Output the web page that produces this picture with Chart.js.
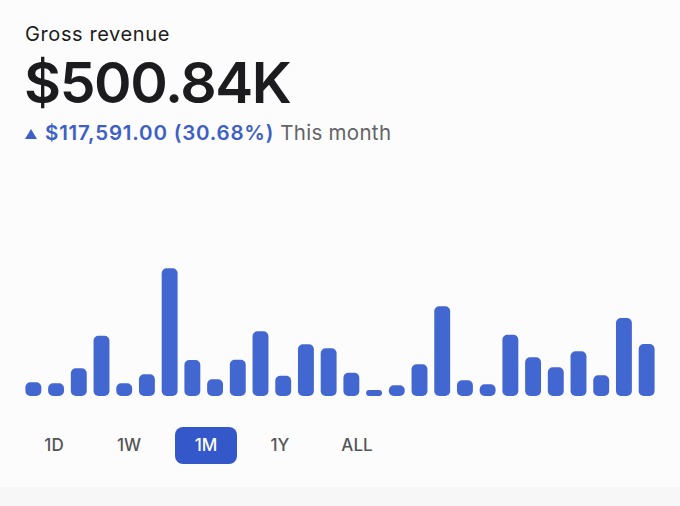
<!DOCTYPE html>
<html>
<head>
<meta charset="utf-8">
<script src="https://cdn.jsdelivr.net/npm/chart.js@4.4.1/dist/chart.umd.min.js"></script>
<style>
  html, body { margin: 0; padding: 0; }
  body {
    width: 680px; height: 506px; position: relative; overflow: hidden;
    background: #fcfcfd; font-family: Inter, "Noto Sans", sans-serif;
  }
  .title { position: absolute; left: 25px; top: 22px; font-size: 20px; color: #1c1c1e; font-weight: 400; letter-spacing: 0.6px; }
  .total { position: absolute; left: 24px; top: 48px; font-size: 57px; font-weight: 600; color: #1c1c1e; letter-spacing: -1.4px; line-height: 70px; }
  .change { position: absolute; left: 25px; top: 120px; font-size: 20.5px; line-height: 26px; white-space: nowrap; }
  .change .up { color: #3d60c6; font-weight: 600; letter-spacing: 0.8px; }
  .change .tri { display: inline-block; width: 0; height: 0; border-left: 6px solid transparent; border-right: 6px solid transparent; border-bottom: 10px solid #3d60c6; margin-right: 8px; vertical-align: 1px; }
  .change .period { color: #636366; margin-left: 6px; letter-spacing: 0.3px; }
  #wrap { position: absolute; left: 0; top: 170px; width: 680px; height: 226px; }
  .ranges { position: absolute; left: 0; top: 427px; height: 37px; width: 680px; }
  .ranges span {
    position: absolute; top: 0; height: 37px; line-height: 37px; width: 62px; margin-left: -31px;
    text-align: center; font-size: 17px; font-weight: 500; color: #555558; border-radius: 8px;
  }
  .ranges span.active { background: #3457c9; color: #fff; }
  .footer { position: absolute; left: 0; top: 487px; width: 680px; height: 19px; background: #f7f7f8; }
</style>
</head>
<body>
<div class="title">Gross revenue</div>
<div class="total">$500.84K</div>
<div class="change"><span class="tri"></span><span class="up">$117,591.00 (30.68%)</span><span class="period">This month</span></div>
<div id="wrap"><canvas id="revenueChart"></canvas></div>
<div class="ranges" id="ranges"></div>
<div class="footer"></div>
<script>
// daily gross revenue for the month (USD)
const days = [1, 2, 3, 4, 5, 6, 7, 8, 9, 10, 11, 12, 13, 14, 15, 16, 17, 18, 19, 20, 21, 22, 23, 24, 25, 26, 27, 28];
const revenue = [1520, 1410, 3080, 6700, 1410, 2410, 14190, 4000, 1860, 4030, 7190, 2260, 5740, 5300,
                 2590, 670, 1190, 3520, 9970, 1740, 1300, 6810, 4300, 3190, 4970, 2300, 8670, 5780];
const rangeLabels = ['1D', '1W', '1M', '1Y', 'ALL'];
const activeRange = '1M';

// range buttons
const rangeBox = document.getElementById('ranges');
const rangeCenters = [54, 129, 206, 280, 357];
rangeLabels.forEach((label, i) => {
    const s = document.createElement('span');
    s.textContent = label;
    s.style.left = rangeCenters[i] + 'px';
    if (label === activeRange) s.className = 'active';
    rangeBox.appendChild(s);
});

const ctx = document.getElementById('revenueChart').getContext('2d');
const revenueChart = new Chart(ctx, {
    type: 'bar',
    data: {
        labels: days,
        datasets: [{
            label: 'Gross revenue',
            data: revenue,
            backgroundColor: '#4267d1',
            borderRadius: 5,
            borderSkipped: false,
            categoryPercentage: 1.0,
            barPercentage: 0.7
        }]
    },
    options: {
        responsive: true,
        maintainAspectRatio: false,
        animation: false,
        layout: { padding: { left: 22, right: 22, top: 0, bottom: 0 } },
        scales: {
            x: { display: false },
            y: { display: false, min: 0, max: 25120 }
        },
        plugins: {
            legend: { display: false },
            tooltip: { enabled: false }
        }
    }
});
</script>
</body>
</html>
